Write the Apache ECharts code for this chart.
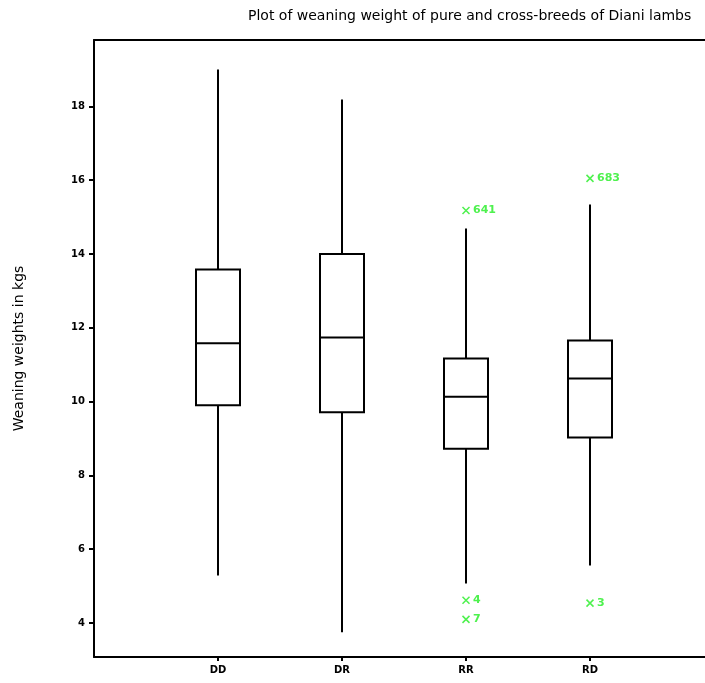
<!DOCTYPE html>
<html>
<head>
<meta charset="utf-8">
<script src="https://cdn.jsdelivr.net/npm/echarts@6/dist/echarts.min.js"></script>
<style>
  html, body { margin: 0; padding: 0; background: #fff; }
  #main { width: 705px; height: 683px; }
</style>
</head>
<body>
<div id="main"></div>
<script>
// 类别 (两端空白类别用于留出空隙)
var categories = ['', 'DD', 'DR', 'RR', 'RD', ''];
var yTicks = [4, 6, 8, 10, 12, 14, 16, 18];

// 箱线图统计量, 顺序 DD DR RR RD
var whiskerLow = [5.29, 3.75, 5.07, 5.56];
var q1 = [9.9, 9.71, 8.72, 9.03];
var median = [11.58, 11.74, 10.13, 10.63];
var q3 = [13.58, 14.0, 11.17, 11.66];
var whiskerHigh = [19.0, 18.19, 14.69, 15.34];

// 离群点
var outlierCat = ['RR', 'RR', 'RR', 'RD', 'RD'];
var outlierVal = [15.18, 4.62, 4.1, 16.05, 4.54];
var outlierId = ['641', '4', '7', '683', '3'];

var green = '#22ee22';
var fontName = 'DejaVu Sans';

var boxData = [];
for (var i = 0; i < q1.length; i++) {
    boxData.push([i + 1, whiskerLow[i], q1[i], median[i], q3[i], whiskerHigh[i]]);
}
var outData = outlierCat.map(function (c, i) {
    return { value: [c, outlierVal[i]], name: outlierId[i] };
});

var chart = echarts.init(document.getElementById('main'));

var option = {
    animation: false,
    backgroundColor: '#fff',
    title: {
        text: 'Plot of weaning weight of pure and cross-breeds of Diani lambs',
        left: 243,
        top: 4,
        textStyle: { fontFamily: fontName, fontWeight: 'normal', fontSize: 14, color: '#000' }
    },
    grid: { left: 94, top: 40, width: 620, height: 617, outerBoundsMode: 'none', containLabel: false },
    xAxis: [{
        type: 'category',
        data: categories,
        boundaryGap: false,
        axisLine: { lineStyle: { color: '#000', width: 2 } },
        axisTick: {
            length: 4,
            interval: function (idx, val) { return val !== ''; },
            lineStyle: { color: '#000', width: 2 }
        },
        axisLabel: {
            interval: 0,
            margin: 8,
            fontFamily: fontName,
            fontSize: 10,
            fontWeight: 'bold',
            color: '#000'
        },
        splitLine: { show: false }
    }, {
        // 顶部边框
        type: 'value',
        position: 'top',
        axisLine: { show: true, onZero: false, lineStyle: { color: '#000', width: 2 } },
        axisTick: { show: false },
        axisLabel: { show: false },
        splitLine: { show: false }
    }],
    yAxis: {
        type: 'value',
        min: 3.08,
        max: 19.8,
        name: 'Weaning weights in kgs',
        nameLocation: 'middle',
        nameGap: 68,
        nameRotate: 90,
        nameTextStyle: { fontFamily: fontName, fontSize: 14, color: '#000' },
        axisLine: { show: true, lineStyle: { color: '#000', width: 2 } },
        axisTick: { show: true, length: 5, customValues: yTicks, lineStyle: { color: '#000', width: 2 } },
        axisLabel: {
            customValues: yTicks,
            margin: 9,
            fontFamily: fontName,
            fontSize: 10,
            fontWeight: 'bold',
            color: '#000'
        },
        splitLine: { show: false }
    },
    series: [
        {
            type: 'custom',
            name: 'box',
            encode: { x: 0, y: [1, 2, 3, 4, 5] },
            data: boxData,
            renderItem: function (params, api) {
                var x = api.value(0);
                var pLow = api.coord([x, api.value(1)]);
                var pQ1 = api.coord([x, api.value(2)]);
                var pMed = api.coord([x, api.value(3)]);
                var pQ3 = api.coord([x, api.value(4)]);
                var pHigh = api.coord([x, api.value(5)]);
                var half = 22;
                var st = { stroke: '#000', lineWidth: 2, fill: null };
                return {
                    type: 'group',
                    children: [
                        { type: 'line', shape: { x1: pLow[0], y1: pLow[1], x2: pQ1[0], y2: pQ1[1] }, style: st },
                        { type: 'line', shape: { x1: pQ3[0], y1: pQ3[1], x2: pHigh[0], y2: pHigh[1] }, style: st },
                        { type: 'rect', shape: { x: pQ3[0] - half, y: pQ3[1], width: half * 2, height: pQ1[1] - pQ3[1] },
                          style: { stroke: '#000', lineWidth: 2, fill: '#fff' } },
                        { type: 'line', shape: { x1: pMed[0] - half, y1: pMed[1], x2: pMed[0] + half, y2: pMed[1] }, style: st }
                    ]
                };
            }
        },
        {
            type: 'scatter',
            name: 'outliers',
            data: outData,
            symbol: 'path://M0,0L10,10M10,0L0,10',
            symbolSize: 7,
            itemStyle: { color: 'none', borderColor: green, borderWidth: 1.5 },
            label: {
                show: true,
                position: 'right',
                distance: 1,
                formatter: function (p) { return p.name; },
                fontFamily: fontName,
                fontSize: 11,
                fontWeight: 'bold',
                color: green
            }
        }
    ]
};

chart.setOption(option);
</script>
</body>
</html>
